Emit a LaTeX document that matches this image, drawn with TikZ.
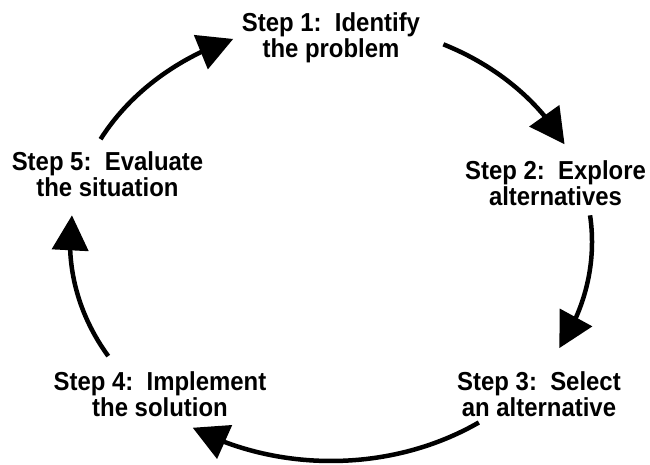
\documentclass[tikz,border=0pt]{standalone}
\usepackage{fontspec}
\setmainfont[FakeStretch=0.92]{Liberation Sans}
\usetikzlibrary{arrows.meta,bending}
\tikzset{
  steptext/.style={align=center,inner sep=0pt,font=\fontsize{26}{26}\selectfont\bfseries},
  cyclearrow/.style={line width=4.5pt,-{Triangle[length=35pt,width=36pt,flex]}},
}
\begin{document}
\begin{tikzpicture}[x=1pt,y=1pt]
\useasboundingbox (0,0) rectangle (650,464);
% text nodes
\node[steptext] (s1) at (331,426) {Step 1:\ \ Identify\\the problem};
\node[steptext] (s2) at (555.5,281) {Step 2:\ \ Explore\\alternatives};
\node[steptext] (s3) at (539,70) {Step 3:\ \ Select\\an alternative};
\node[steptext] (s4) at (160,70) {Step 4:\ \ Implement\\the solution};
\node[steptext] (s5) at (107.5,290) {Step 5:\ \ Evaluate\\the situation};
% ellipse centre and arc start points
\coordinate (O) at (331,222);
\path (O) ++(64.5:261pt and 219pt) coordinate (a1);
\path (O) ++(7:261pt and 219pt) coordinate (a2);
\path (O) ++(-55.5:261pt and 219pt) coordinate (a3);
\path (O) ++(-148.6:261pt and 219pt) coordinate (a4);
\path (O) ++(152:261pt and 219pt) coordinate (a5);
% connectors
\draw[cyclearrow] (a1) arc[start angle=64.5,end angle=26.5,x radius=261pt,y radius=219pt];
\draw[cyclearrow] (a2) arc[start angle=7,end angle=-29,x radius=261pt,y radius=219pt];
\draw[cyclearrow] (a3) arc[start angle=-55.5,end angle=-122,x radius=261pt,y radius=219pt];
\draw[cyclearrow] (a4) arc[start angle=-148.6,end angle=-187,x radius=261pt,y radius=219pt];
\draw[cyclearrow] (a5) arc[start angle=152,end angle=112,x radius=261pt,y radius=219pt];
\end{tikzpicture}
\end{document}
